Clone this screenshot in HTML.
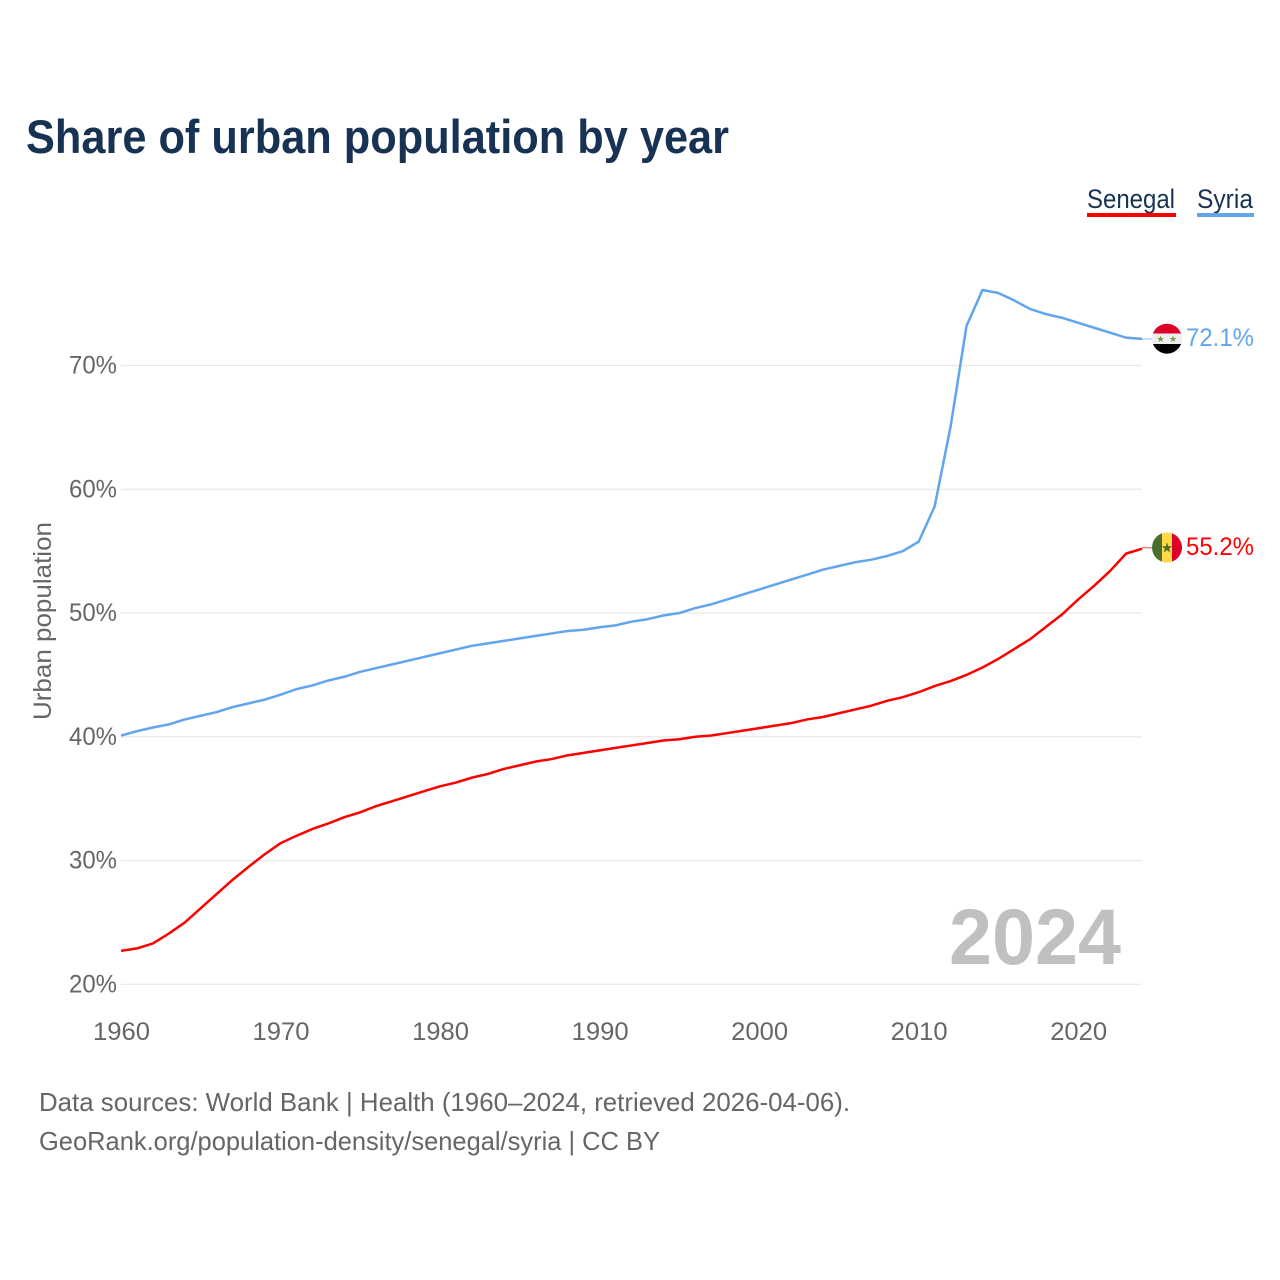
<!DOCTYPE html>
<html lang="en">
<head>
<meta charset="utf-8">
<title>Share of urban population by year</title>
<style>
html,body{margin:0;padding:0;background:#fff;}
svg{display:block;font-family:"Liberation Sans",sans-serif;}
</style>
</head>
<body>
<svg id="chart" xmlns="http://www.w3.org/2000/svg" width="1280" height="1280" viewBox="0 0 1280 1280">
  <rect width="1280" height="1280" fill="#fff"/>
  <text x="26" y="153" font-size="47" font-weight="700" fill="#173253" textLength="703" lengthAdjust="spacingAndGlyphs">Share of urban population by year</text>

  <g>
    <text x="1087" y="208" font-size="27" fill="#173253" textLength="88" lengthAdjust="spacingAndGlyphs">Senegal</text>
    <rect x="1087" y="213" width="89" height="4" fill="#ff0000"/>
  </g>
  <g>
    <text x="1197" y="208" font-size="27" fill="#173253" textLength="56" lengthAdjust="spacingAndGlyphs">Syria</text>
    <rect x="1197" y="213" width="57" height="4" fill="#60a5ee"/>
  </g>

  <text transform="translate(51,621) rotate(-90)" text-anchor="middle" font-size="25" fill="#666" textLength="198" lengthAdjust="spacingAndGlyphs">Urban population</text>

  <g id="grid"></g>
  <g id="yticks"></g>
  <g id="xticks"></g>

  <text x="1121" y="964" text-anchor="end" font-size="79" font-weight="700" fill="#c0c0c0" textLength="172" lengthAdjust="spacingAndGlyphs">2024</text>

  <g id="series"></g>

  <defs>
    <clipPath id="clip-syria"><circle cx="1167" cy="338.7" r="15"/></clipPath>
    <clipPath id="clip-senegal"><circle cx="1167" cy="547.5" r="15"/></clipPath>
  </defs>

  <line x1="1142" y1="339" x2="1152" y2="339" stroke="#60a5ee" stroke-opacity="0.5" stroke-width="1.5"/>
  <line x1="1142" y1="547.7" x2="1152" y2="547.7" stroke="#ff0000" stroke-opacity="0.5" stroke-width="1.5"/>

  <g clip-path="url(#clip-syria)">
    <rect x="1152" y="323" width="30" height="10.5" fill="#dc002b"/>
    <rect x="1152" y="333.5" width="30" height="10.5" fill="#eeeeee"/>
    <rect x="1152" y="344" width="30" height="11" fill="#000000"/>
    <text x="1160.5" y="342" text-anchor="middle" font-size="9" fill="#6c9a45" font-family="'DejaVu Sans',sans-serif">★</text>
    <text x="1173" y="342" text-anchor="middle" font-size="9" fill="#6c9a45" font-family="'DejaVu Sans',sans-serif">★</text>
  </g>
  <g clip-path="url(#clip-senegal)">
    <rect x="1152" y="532" width="10" height="31" fill="#496e2d"/>
    <rect x="1162" y="532" width="10" height="31" fill="#ffda44"/>
    <rect x="1172" y="532" width="10" height="31" fill="#dc002b"/>
    <text x="1167" y="552.5" text-anchor="middle" font-size="14" fill="#496e2d" font-family="'DejaVu Sans',sans-serif">★</text>
  </g>

  <text x="1186" y="346" font-size="25" fill="#60a5ee" textLength="68" lengthAdjust="spacingAndGlyphs">72.1%</text>
  <text x="1186" y="555" font-size="25" fill="#ff0000" textLength="68" lengthAdjust="spacingAndGlyphs">55.2%</text>

  <text x="39" y="1111" font-size="26" fill="#666" textLength="811" lengthAdjust="spacingAndGlyphs">Data sources: World Bank | Health (1960–2024, retrieved 2026-04-06).</text>
  <text x="39" y="1150" font-size="26" fill="#666" textLength="621" lengthAdjust="spacingAndGlyphs">GeoRank.org/population-density/senegal/syria | CC BY</text>
</svg>
<script>
const startYear = 1960;
const endYear = 2024;
const yTickValues = [20, 30, 40, 50, 60, 70];
const xTickValues = [1960, 1970, 1980, 1990, 2000, 2010, 2020];
const senegalValues = [
  22.7, 22.9, 23.3, 24.1, 25.0, 26.15, 27.3, 28.45, 29.5, 30.5,
  31.4, 32.0, 32.55, 33.0, 33.5, 33.9, 34.4, 34.8, 35.2, 35.6,
  36.0, 36.3, 36.7, 37.0, 37.4, 37.7, 38.0, 38.2, 38.5, 38.7,
  38.9, 39.1, 39.3, 39.5, 39.7, 39.8, 40.0, 40.1, 40.3, 40.5,
  40.7, 40.9, 41.1, 41.4, 41.6, 41.9, 42.2, 42.5, 42.9, 43.2,
  43.6, 44.1, 44.5, 45.0, 45.6, 46.3, 47.1, 47.9, 48.9, 49.9,
  51.1, 52.2, 53.4, 54.8, 55.2
];
const syriaValues = [
  40.1, 40.45, 40.75, 41.0, 41.4, 41.7, 42.0, 42.4, 42.7, 43.0,
  43.4, 43.85, 44.15, 44.55, 44.85, 45.25, 45.55, 45.85, 46.15, 46.45,
  46.75, 47.05, 47.35, 47.55, 47.75, 47.95, 48.15, 48.35, 48.55, 48.65,
  48.85, 49.0, 49.3, 49.5, 49.8, 50.0, 50.4, 50.7, 51.1, 51.5,
  51.9, 52.3, 52.7, 53.1, 53.5, 53.8, 54.1, 54.3, 54.6, 55.0,
  55.76, 58.6, 65.05, 73.2, 76.1, 75.86, 75.25, 74.56, 74.15, 73.85,
  73.45, 73.05, 72.65, 72.25, 72.15
];

const NS = 'http://www.w3.org/2000/svg';
function xScale(year) { return 121 + (year - 1960) * (1142 - 121) / 64; }
function yScale(v) { return 984.3 - (v - 20) * 12.376; }

const grid = document.getElementById('grid');
const yticks = document.getElementById('yticks');
const xticks = document.getElementById('xticks');
const seriesGroup = document.getElementById('series');

yTickValues.forEach(function (v) {
  const line = document.createElementNS(NS, 'line');
  
  
  line.setAttribute('x1', xScale(startYear));
  line.setAttribute('x2', xScale(endYear));
  line.setAttribute('y1', yScale(v));
  line.setAttribute('y2', yScale(v));
  line.setAttribute('stroke', '#e8e8e8');
  line.setAttribute('stroke-width', '1.2');
  grid.appendChild(line);

  const t = document.createElementNS(NS, 'text');
  
  
  t.setAttribute('x', 117);
  t.setAttribute('y', yScale(v) + 8);
  t.setAttribute('text-anchor', 'end');
  t.setAttribute('font-size', '25');
  t.setAttribute('fill', '#666');
  t.setAttribute('textLength', '48');
  t.setAttribute('lengthAdjust', 'spacingAndGlyphs');
  t.textContent = v + '%';
  yticks.appendChild(t);
});

xTickValues.forEach(function (yr) {
  const t = document.createElementNS(NS, 'text');
  
  
  t.setAttribute('x', xScale(yr) + 0.5);
  t.setAttribute('y', 1040);
  t.setAttribute('text-anchor', 'middle');
  t.setAttribute('font-size', '25');
  t.setAttribute('fill', '#666');
  t.setAttribute('textLength', '57');
  t.setAttribute('lengthAdjust', 'spacingAndGlyphs');
  t.textContent = yr;
  xticks.appendChild(t);
});

function drawSeries(values, color, name) {
  const pts = values.map(function (v, i) {
    return xScale(startYear + i).toFixed(2) + ',' + yScale(v).toFixed(2);
  }).join(' ');
  const line = document.createElementNS(NS, 'polyline');
  
  
  line.setAttribute('points', pts);
  line.setAttribute('fill', 'none');
  line.setAttribute('stroke', color);
  line.setAttribute('stroke-width', '2.5');
  line.setAttribute('stroke-linejoin', 'round');
  seriesGroup.appendChild(line);
}
drawSeries(senegalValues, '#ff0000', 'line-senegal');
drawSeries(syriaValues, '#60a5ee', 'line-syria');
</script>
</body>
</html>
